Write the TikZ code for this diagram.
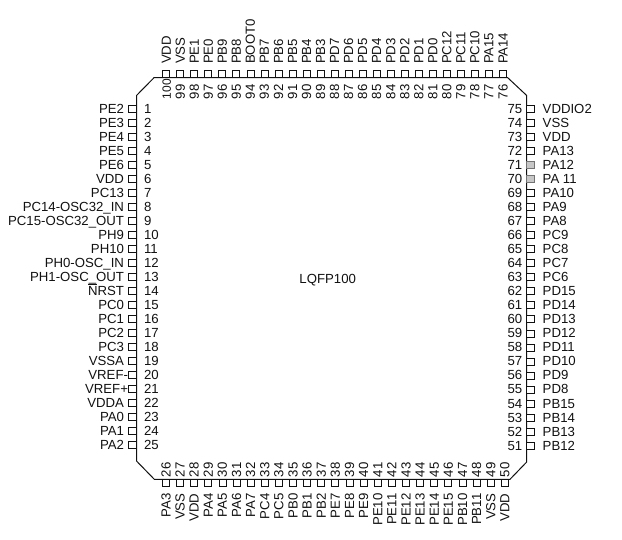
\documentclass[tikz,border=0pt]{standalone}
\usepackage{fontspec}
\setmainfont{Liberation Sans}
\definecolor{ink}{HTML}{111111}
\tikzset{
  txt/.style={inner sep=0pt,outer sep=0pt,text=ink,font=\fontsize{13.2}{14}\selectfont},
  pin/.style={draw=ink,line width=0.9pt,fill=white,inner sep=0pt,outer sep=0pt,minimum width=#1},
  hpin/.style={pin=7.6pt,minimum height=7pt},
  vpin/.style={pin=7pt,minimum height=7.6pt},
  hot/.style={fill=black!22,draw=black!55,minimum width=8pt},
  body/.style={draw=ink,line width=1pt}
}
\begin{document}
\begin{tikzpicture}[x=1pt,y=-1pt]
\useasboundingbox (0,0) rectangle (622,540);
% package outline
\draw[body] (154,77.7) -- (507.7,77.7) -- (526.7,95.5) -- (526.7,462) -- (510,479.3) -- (154.3,479.3) -- (136.5,461) -- (136.5,95.5) -- cycle;
\node[txt,anchor=base] (pkg) at (327.7,283.5) {LQFP100};
% left side
\foreach \t [count=\i from 0, evaluate=\i as \yy using 109+14*\i, evaluate=\i as \n using int(\i+1)] in {PE2,PE3,PE4,PE5,PE6,VDD,PC13,PC14-OSC32\_IN,PC15-OSC32\_OUT,PH9,PH10,PH0-OSC\_IN,PH1-OSC\_OUT,\rlap{\raisebox{10.4pt}{\rule{9.4pt}{0.8pt}}}NRST,PC0,PC1,PC2,PC3,VSSA,\kern-4pt VREF-\kern-4pt,\kern-4pt VREF+\kern-4pt,VDDA,PA0,PA1,PA2}{
  \node[hpin] (p\n) at (132.7,\yy) {};
  \node[txt,anchor=base east] (l\n) at (124,\yy+4.4) {\t};
  \node[txt,anchor=base west] (n\n) at (144,\yy+4.4) {\n};
}
% bottom side
\foreach \t [count=\i from 0, evaluate=\i as \xx using 166+14.12*\i, evaluate=\i as \n using int(\i+26)] in {PA3,VSS,VDD,PA4,PA5,PA6,PA7,PC4,PC5,PB0,PB1,PB2,PE7,PE8,PE9,PE10,PE11,PE12,PE13,PE14,PE15,PB10,PB11,VSS,VDD}{
  \node[vpin] (p\n) at (\xx,483.1) {};
  \node[txt,rotate=90,anchor=base east] (l\n) at (\xx+4.5,493.5) {\t};
  \node[txt,rotate=90,anchor=base west] (n\n) at (\xx+4.5,477) {\n};
}
% right side
\foreach \t [count=\i from 0, evaluate=\i as \yy using 445.7-14.03*\i, evaluate=\i as \n using int(\i+51)] in {PB12,PB13,PB14,PB15,PD8,PD9,PD10,PD11,PD12,PD13,PD14,PD15,PC6,PC7,PC8,PC9,PA8,PA9,PA10,PA 11,PA12,PA13,VDD,VSS,VDDIO2}{
  \ifnum\n=70 \tikzset{thispin/.style=hot}\else\ifnum\n=71 \tikzset{thispin/.style=hot}\else\tikzset{thispin/.style={}}\fi\fi
  \node[hpin,thispin] (p\n) at (530.6,\yy) {};
  \node[txt,anchor=base west] (l\n) at (542.7,\yy+4.4) {\t};
  \node[txt,anchor=base east] (n\n) at (522.3,\yy+4.4) {\n};
}
% top side
\foreach \t [count=\i from 0, evaluate=\i as \xx using 503-14.03*\i, evaluate=\i as \n using int(\i+76)] in {PA14,PA15,PC10,PC11,PC12,PD0,PD1,PD2,PD3,PD4,PD5,PD6,PD7,PB3,PB4,PB5,PB6,PB7,BOOT0,PB8,PB9,PE0,PE1,VSS,VDD}{
  \node[vpin] (p\n) at (\xx,73.9) {};
  \node[txt,rotate=90,anchor=base west] (l\n) at (\xx+4.5,64) {\t};
  \ifnum\n=100
    \node[txt,rotate=90,anchor=base west,font=\fontsize{12}{14}\selectfont] (n\n) at (\xx+4.5,99.3) {\n};
  \else
    \node[txt,rotate=90,anchor=base west] (n\n) at (\xx+4.5,99.3) {\n};
  \fi
}
\end{tikzpicture}
\end{document}
